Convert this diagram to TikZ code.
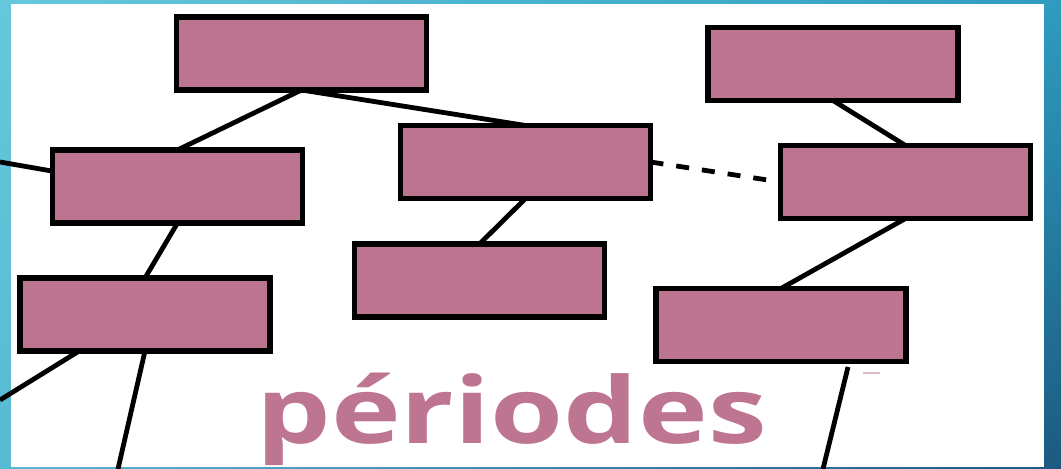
\documentclass[tikz,border=0pt]{standalone}
\usepackage{fontspec}
\newfontfamily\titlefont{Open Sans}
\usetikzlibrary{calc,shadings}
\definecolor{boxpink}{HTML}{BC7490}
\definecolor{textpink}{HTML}{BE7591}
\definecolor{bgA}{HTML}{66C8DC}
\definecolor{bgB}{HTML}{2E9CC0}
\definecolor{bgC}{HTML}{1B5A80}
\definecolor{bgD}{HTML}{58BAD2}
\tikzset{
  pbox/.style={draw=black, fill=boxpink, line width=2.6pt, minimum width=125pt, minimum height=36.5pt, inner sep=0pt, outer sep=0pt},
  link/.style={draw=black, line width=2.4pt},
}
\begin{document}
\begin{tikzpicture}[x=0.5pt,y=-0.5pt]
\useasboundingbox (0,0) rectangle (1061,469);
\shade[upper left=bgA, upper right=bgB, lower right=bgC, lower left=bgD] (0,0) rectangle (1061,469);
\fill[white] (11,4) rectangle (1044,467);
% boxes
\node[pbox] (B1) at (301.5,53.5) {};
\node[pbox] (B2) at (833,64) {};
\node[pbox] (B3) at (177.5,186.5) {};
\node[pbox] (B4) at (525.5,162) {};
\node[pbox] (B5) at (905.5,182) {};
\node[pbox] (B6) at (145,314.5) {};
\node[pbox] (B7) at (479.5,280.5) {};
\node[pbox] (B8) at (781,325) {};
% free ends
\coordinate (L1) at (0,162);
\coordinate (L2) at (0,400);
\coordinate (L3) at (118,469);
\coordinate (L4) at (823,469);
\coordinate (L5) at (848,367);
\coordinate (P1) at (863,373);
\coordinate (P2) at (880,373);
% connectors
\draw[link] (B1.south) -- (B3.north);
\draw[link] (B1.south) -- (B4.north);
\draw[link] (B4.south) -- (B7.north);
\draw[link] (B3.south) -- (B6.north);
\draw[link] (B2.south) -- (B5.north);
\draw[link] (B5.south) -- (B8.north);
\draw[link, dash pattern=on 6.5pt off 6.5pt, shorten >=3pt] (B4.east) -- (B5.west);
\draw[link] (L1) -- (B3.173.5);
\draw[link] (L2) -- (B6.209.3);
\draw[link] (L3) -- (B6.south);
\draw[link] (L4) -- (L5);
\draw[textpink!50, line width=0.8pt] (P1) -- (P2);
% title
\node[anchor=base west, inner sep=0pt, text=textpink, xscale=1.283] (T) at (256,444) {\fontsize{46}{48}\selectfont\titlefont\bfseries périodes};
\end{tikzpicture}
\end{document}
